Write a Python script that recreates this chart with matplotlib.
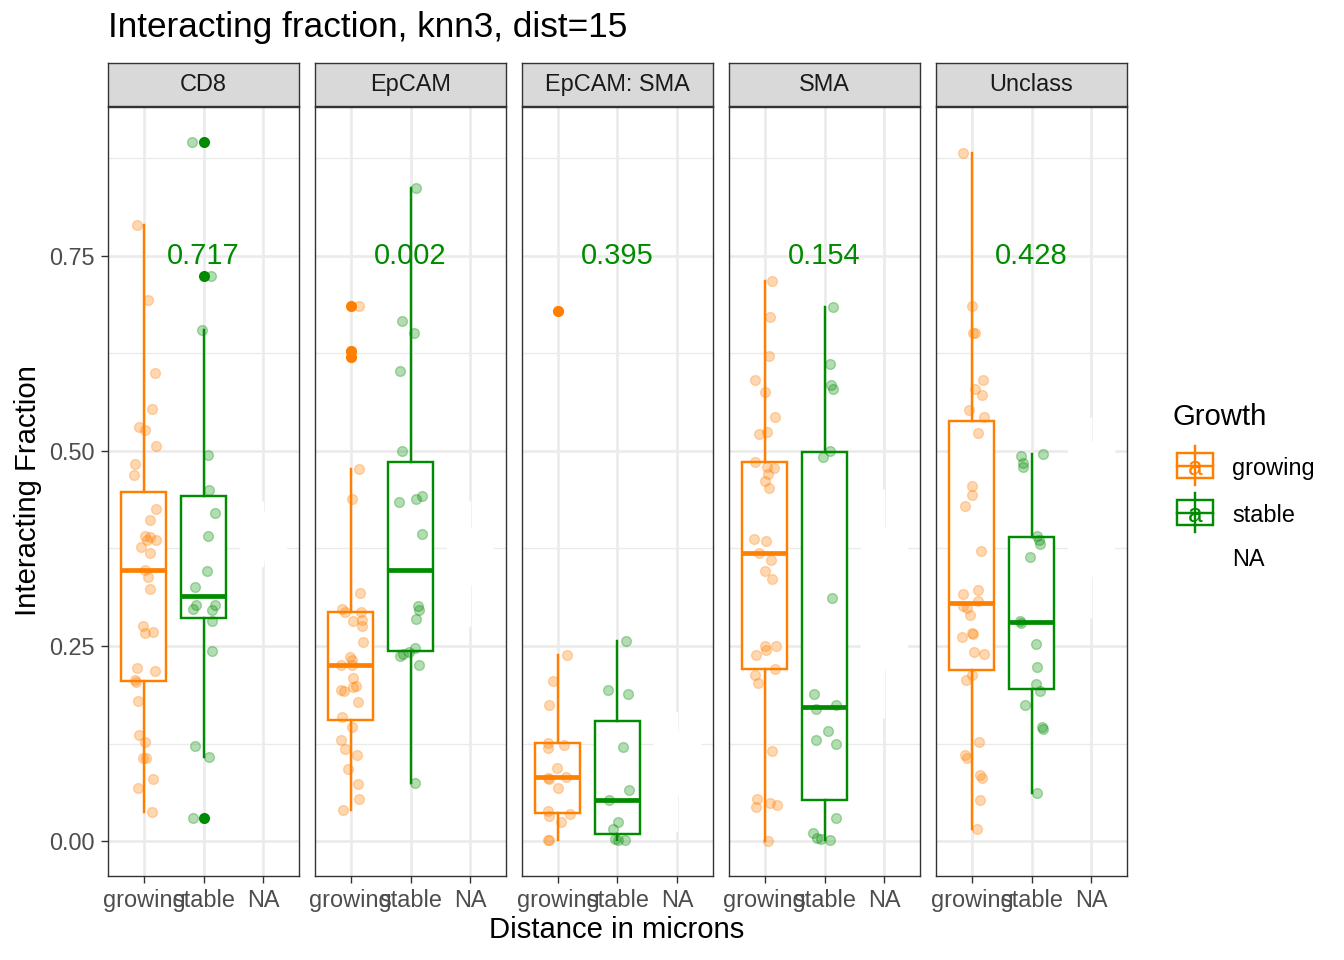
import numpy as np
import matplotlib
matplotlib.use("Agg")
import matplotlib.pyplot as plt
from matplotlib.patches import Rectangle

plt.rcParams['font.family'] = ['Liberation Sans', 'DejaVu Sans']

# facets, groups and p-values
facets = ["CD8", "EpCAM", "EpCAM: SMA", "SMA", "Unclass"]
groups = ["growing", "stable", "NA"]
p_values = ["0.717", "0.002", "0.395", "0.154", "0.428"]
ytick_vals = [0.0, 0.25, 0.5, 0.75]
ytick_labels = ["0.00", "0.25", "0.50", "0.75"]

# interacting fraction per facet / group, with jitter offsets
cd8_growing = [0.790, 0.693, 0.600, 0.554, 0.531, 0.527, 0.506, 0.483, 0.469, 0.426,
               0.412, 0.391, 0.390, 0.386, 0.386, 0.377, 0.369, 0.348, 0.339, 0.323,
               0.276, 0.267, 0.268, 0.222, 0.218, 0.206, 0.204, 0.179, 0.136, 0.127,
               0.106, 0.106, 0.079, 0.068, 0.037]
cd8_growing_jit = [-0.11, 0.07, 0.18, 0.13, -0.08, 0.02, 0.21, -0.14, -0.16, 0.20,
                   0.10, 0.02, 0.10, 0.05, 0.20, -0.04, 0.11, 0.02, 0.07, 0.10,
                   -0.02, 0.02, 0.16, -0.12, 0.18, -0.15, -0.13, -0.10, -0.08, 0.02,
                   -0.01, 0.03, 0.16, -0.10, 0.13]
cd8_stable = [0.896, 0.724, 0.655, 0.495, 0.450, 0.421, 0.391, 0.346, 0.325, 0.302,
              0.297, 0.302, 0.296, 0.282, 0.243, 0.122, 0.108, 0.029]
cd8_stable_jit = [-0.19, 0.12, -0.02, 0.08, 0.10, 0.20, 0.08, 0.06, -0.14, -0.12,
                  -0.18, 0.19, 0.14, 0.15, 0.14, -0.14, 0.10, -0.18]

epcam_growing = [0.686, 0.628, 0.620, 0.477, 0.438, 0.318, 0.297, 0.293, 0.293, 0.283,
                 0.282, 0.276, 0.255, 0.236, 0.232, 0.225, 0.225, 0.209, 0.194, 0.192,
                 0.199, 0.197, 0.178, 0.159, 0.146, 0.129, 0.118, 0.110, 0.092, 0.073,
                 0.054, 0.040]
epcam_growing_jit = [0.14, 0.0, 0.0, 0.13, 0.02, 0.16, -0.14, -0.10, 0.17, 0.19,
                     0.04, 0.19, 0.20, -0.02, 0.02, -0.16, 0.02, 0.04, -0.16, -0.11,
                     0.08, 0.04, 0.12, -0.14, 0.02, -0.16, -0.10, 0.10, -0.04, 0.12,
                     0.13, -0.13]
epcam_stable = [0.837, 0.667, 0.651, 0.603, 0.500, 0.434, 0.439, 0.442, 0.394, 0.301,
                0.296, 0.285, 0.248, 0.237, 0.240, 0.242, 0.226, 0.074]
epcam_stable_jit = [0.10, -0.14, 0.06, -0.18, -0.14, -0.19, 0.10, 0.19, 0.20, 0.13,
                    0.15, 0.10, 0.07, -0.17, -0.13, -0.02, 0.15, 0.07]

epsma_growing = [0.679, 0.238, 0.205, 0.175, 0.126, 0.119, 0.123, 0.094, 0.082, 0.081,
                 0.080, 0.068, 0.039, 0.035, 0.032, 0.024, 0.001, 0.001]
epsma_growing_jit = [0.0, 0.16, -0.08, -0.15, -0.17, -0.17, 0.10, -0.02, 0.14, -0.17,
                     -0.14, 0.01, -0.17, 0.20, -0.14, 0.06, -0.17, -0.14]
epsma_stable = [0.257, 0.194, 0.188, 0.120, 0.065, 0.052, 0.024, 0.016, 0.003, 0.001, 0.001]
epsma_stable_jit = [0.15, -0.16, 0.18, 0.10, 0.19, -0.14, 0.01, -0.07, -0.05, 0.01, 0.12]

sma_growing = [0.718, 0.672, 0.622, 0.591, 0.576, 0.543, 0.522, 0.524, 0.486, 0.480,
               0.478, 0.471, 0.462, 0.452, 0.387, 0.385, 0.369, 0.360, 0.346, 0.336,
               0.250, 0.250, 0.245, 0.239, 0.220, 0.213, 0.202, 0.116, 0.054, 0.049,
               0.046, 0.043, 0.000]
sma_growing_jit = [0.12, 0.08, 0.07, -0.17, 0.0, 0.17, -0.10, 0.04, -0.17, 0.03,
                   0.15, 0.06, 0.01, 0.07, -0.18, 0.02, -0.10, 0.10, 0.0, 0.12,
                   0.0, 0.19, 0.02, -0.15, 0.17, -0.16, -0.11, 0.12, -0.13, 0.08,
                   0.21, -0.15, 0.06]
sma_stable = [0.685, 0.612, 0.584, 0.579, 0.500, 0.492, 0.311, 0.188, 0.169, 0.175,
              0.141, 0.130, 0.125, 0.029, 0.010, 0.004, 0.003, 0.001]
sma_stable_jit = [0.15, 0.10, 0.11, 0.15, 0.10, -0.02, 0.13, -0.18, -0.14, 0.19,
                  0.06, -0.15, 0.20, 0.19, -0.20, -0.12, -0.06, 0.10]

unclass_growing = [0.882, 0.686, 0.651, 0.651, 0.591, 0.579, 0.572, 0.553, 0.544, 0.523,
                   0.455, 0.444, 0.430, 0.372, 0.317, 0.322, 0.308, 0.301, 0.299, 0.290,
                   0.267, 0.266, 0.261, 0.242, 0.240, 0.213, 0.207, 0.127, 0.110, 0.107,
                   0.085, 0.081, 0.052, 0.015]
unclass_growing_jit = [-0.14, 0.01, 0.02, 0.06, 0.19, 0.06, 0.17, -0.04, 0.20, 0.10,
                       0.0, 0.01, -0.12, 0.16, -0.14, 0.11, 0.11, -0.15, -0.08, -0.03,
                       0.0, 0.02, -0.16, 0.03, 0.20, 0.01, -0.10, 0.12, -0.11, -0.08,
                       0.14, 0.17, 0.13, 0.08]
unclass_stable = [0.496, 0.494, 0.485, 0.479, 0.391, 0.386, 0.381, 0.364, 0.282, 0.279,
                  0.253, 0.223, 0.201, 0.192, 0.175, 0.146, 0.143, 0.062]
unclass_stable_jit = [0.20, -0.18, -0.14, -0.14, 0.10, 0.13, 0.14, -0.02, -0.19, -0.17,
                      0.07, 0.10, 0.08, 0.14, -0.11, 0.17, 0.20, 0.10]

# NA group, drawn in white (only visible as gaps in the grid)
cd8_na = [0.353, 0.360, 0.390, 0.420, 0.433]
epcam_na = [0.275, 0.330, 0.360, 0.400, 0.434]
epsma_na = [0.013, 0.060, 0.100, 0.140, 0.164]
sma_na = [0.159, 0.220, 0.300, 0.400, 0.449]
unclass_na = [0.287, 0.340, 0.420, 0.510, 0.541]

panels = [
    (cd8_growing, cd8_growing_jit, cd8_stable, cd8_stable_jit, cd8_na),
    (epcam_growing, epcam_growing_jit, epcam_stable, epcam_stable_jit, epcam_na),
    (epsma_growing, epsma_growing_jit, epsma_stable, epsma_stable_jit, epsma_na),
    (sma_growing, sma_growing_jit, sma_stable, sma_stable_jit, sma_na),
    (unclass_growing, unclass_growing_jit, unclass_stable, unclass_stable_jit, unclass_na),
]

ORANGE = "#FF7F00"
GREEN = "#008B00"
GRID = "#EBEBEB"
DARK = "#333333"
W, H = 1344, 960

fig = plt.figure(figsize=(W / 100, H / 100), dpi=100)


def draw_box(ax, vals, pos, col, fliers=True):
    ax.boxplot(vals, positions=[pos], widths=0.75, patch_artist=True, showcaps=False,
               whis=1.5, manage_ticks=False, showfliers=fliers, zorder=2,
               boxprops=dict(facecolor='white', edgecolor=col, linewidth=1.75),
               medianprops=dict(color=col, linewidth=3.4, solid_capstyle='butt'),
               whiskerprops=dict(color=col, linewidth=1.75),
               flierprops=dict(marker='o', markerfacecolor=col, markeredgecolor=col,
                               markersize=8, markeredgewidth=0))


left0, pw, step = 108, 191, 207
top, bottom = 107, 876
for i, (name, pv, pdata) in enumerate(zip(facets, p_values, panels)):
    g_vals, g_jit, s_vals, s_jit, na_vals = pdata
    left = left0 + i * step
    ax = fig.add_axes([left / W, 1 - bottom / H, pw / W, (bottom - top) / H])
    ax.set_xlim(0.4, 3.6)
    ax.set_ylim(-0.0448, 0.9408)
    ax.set_axisbelow(True)
    ax.set_xticks([1, 2, 3])
    ax.set_xticklabels(groups)
    ax.set_yticks(ytick_vals)
    ax.set_yticklabels(ytick_labels)
    ax.set_yticks([0.125, 0.375, 0.625, 0.875], minor=True)
    ax.yaxis.grid(True, which='major', color=GRID, lw=1.9)
    ax.yaxis.grid(True, which='minor', color=GRID, lw=1.0)
    ax.xaxis.grid(True, which='major', color=GRID, lw=1.9)
    ax.tick_params(axis='both', which='major', length=5.3, width=1.0, color=DARK,
                   labelcolor='#4D4D4D', labelsize=16.9, pad=4.2)
    ax.tick_params(axis='y', which='minor', length=0)
    if i > 0:
        ax.tick_params(axis='y', left=False, labelleft=False)
    for sp in ax.spines.values():
        sp.set_color(DARK)
        sp.set_linewidth(1.0)
        sp.set_zorder(5)

    draw_box(ax, g_vals, 1, ORANGE)
    draw_box(ax, s_vals, 2, GREEN)
    draw_box(ax, na_vals, 3, 'white', fliers=False)

    ax.scatter(1 + np.array(g_jit), g_vals, s=50, color=ORANGE, alpha=0.3,
               edgecolors=ORANGE, linewidths=1.0, zorder=3)
    ax.scatter(2 + np.array(s_jit), s_vals, s=50, color=GREEN, alpha=0.3,
               edgecolors=GREEN, linewidths=1.0, zorder=3)

    ax.text(2, 0.75, pv, color=GREEN, fontsize=21, ha='center', va='center', zorder=4)

    # facet strip
    sax = fig.add_axes([left / W, 1 - (top - 1) / H, pw / W, 43 / H])
    sax.set_facecolor('#D9D9D9')
    sax.set_xticks([])
    sax.set_yticks([])
    for sp in sax.spines.values():
        sp.set_color(DARK)
        sp.set_linewidth(1.0)
    sax.text(0.5, 0.5, name, ha='center', va='center', fontsize=16.9, color='#1A1A1A',
             transform=sax.transAxes)

# titles
fig.text(108 / W, 1 - 28 / H, "Interacting fraction, knn3, dist=15", fontsize=25.3,
         ha='left', va='center')
fig.text(617 / W, 1 - 930 / H, "Distance in microns", fontsize=21.1,
         ha='center', va='center')
fig.text(28 / W, 1 - 491 / H, "Interacting Fraction", fontsize=21.1,
         ha='center', va='center', rotation=90)

# legend
lg = fig.add_axes([0, 0, 1, 1])
lg.set_xlim(0, W)
lg.set_ylim(H, 0)
lg.axis('off')
lg.text(1172, 417, "Growth", fontsize=21.1, ha='left', va='center')
for col, ytop, label in [(ORANGE, 453, "growing"), (GREEN, 500, "stable")]:
    lg.plot([1195, 1195], [ytop - 7, ytop + 32], color=col, lw=1.75)
    lg.add_patch(Rectangle((1177, ytop), 36, 25, facecolor='white', edgecolor=col, lw=1.75))
    lg.plot([1177, 1213], [ytop + 12.5, ytop + 12.5], color=col, lw=1.75)
    lg.text(1195, ytop + 15, "a", color=col, fontsize=19, ha='center', va='center')
    lg.text(1232, ytop + 15, label, fontsize=16.9, ha='left', va='center')
lg.text(1232, 560, "NA", fontsize=16.9, ha='left', va='center')

fig.savefig("out.png", dpi=100)
